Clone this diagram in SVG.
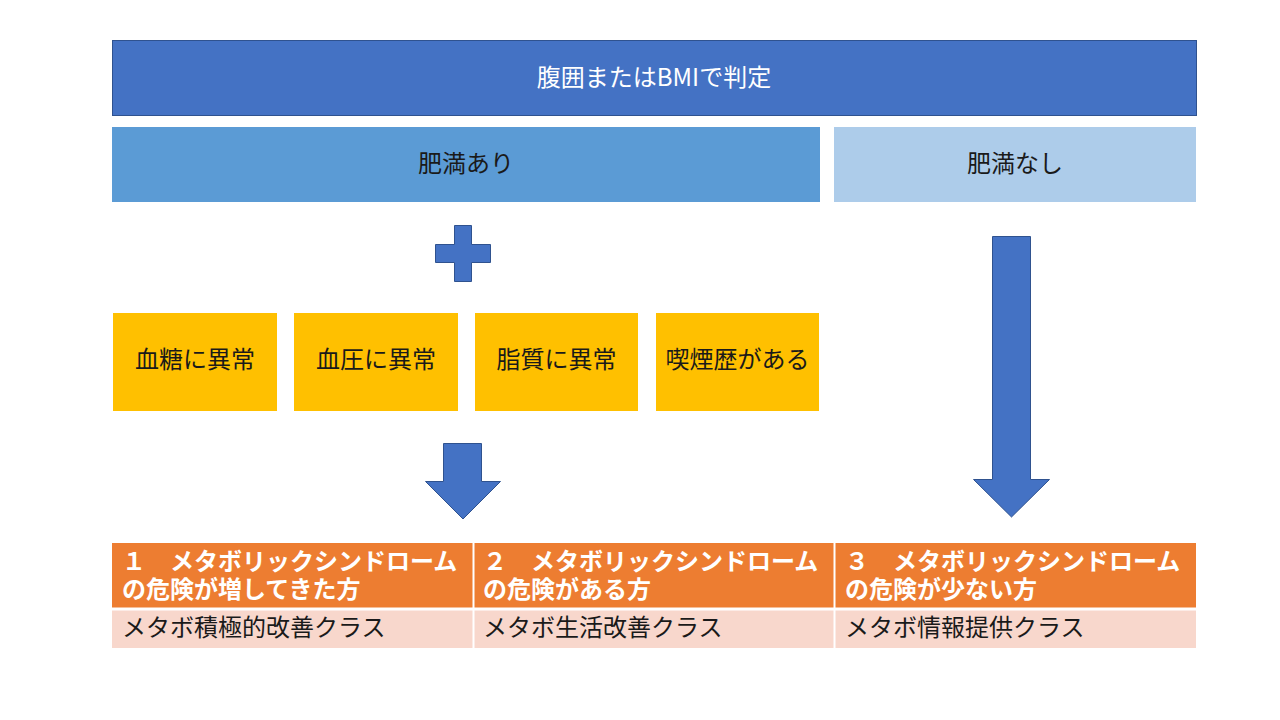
<svg xmlns="http://www.w3.org/2000/svg" width="1280" height="720" viewBox="0 0 1280 720">
<style>
  text { font-family: "Noto Sans CJK JP", "Noto Sans", sans-serif; font-size: 24px; }
  .blue { fill: #4472C4; stroke: #2F528F; stroke-width: 1; }
  .dark { fill: #1a1a1a; }
  .white { fill: #ffffff; }
  .c { text-anchor: middle; }
  .yel { fill: #FFC000; }
  .hdr { fill: #ED7D31; }
  .row { fill: #F8D7CC; }
  .hd { fill: #ffffff; font-weight: bold; }
</style>
<rect width="1280" height="720" fill="#ffffff"/>
<g id="judge">
  <rect class="blue" x="112.5" y="40.5" width="1084" height="75"/>
  <text class="white c" x="654" y="86">腹囲またはBMIで判定</text>
</g>
<g id="obese">
  <rect x="112" y="127" width="708" height="75" fill="#5B9BD5"/>
  <text class="dark c" x="466" y="172">肥満あり</text>
</g>
<g id="not-obese">
  <rect x="834" y="127" width="362" height="75" fill="#ADCCEA"/>
  <text class="dark c" x="1015" y="172">肥満なし</text>
</g>
<g id="plus">
  <path class="blue" d="M454.5 225.5 H471.5 V244.5 H490.5 V262.5 H471.5 V281.5 H454.5 V262.5 H435.5 V244.5 H454.5 Z"/>
</g>
<g id="glucose">
  <rect class="yel" x="113" y="313" width="164" height="98"/>
  <text class="dark c" x="195" y="368">血糖に異常</text>
</g>
<g id="pressure">
  <rect class="yel" x="294" y="313" width="164" height="98"/>
  <text class="dark c" x="376" y="368">血圧に異常</text>
</g>
<g id="lipid">
  <rect class="yel" x="475" y="313" width="163" height="98"/>
  <text class="dark c" x="556.5" y="368">脂質に異常</text>
</g>
<g id="smoking">
  <rect class="yel" x="656" y="313" width="163" height="98"/>
  <text class="dark c" x="737.5" y="368">喫煙歴がある</text>
</g>
<g id="connectors">
  <path class="blue" d="M443.5 443.5 H481.5 V481.5 H500.5 L463 519 L425.5 481.5 H443.5 Z"/>
  <path class="blue" d="M992.5 236.5 H1030.5 V479.5 H1049.5 L1011.5 517 L973.5 479.5 H992.5 Z"/>
</g>
<g id="table">
  <rect class="hdr" x="112" y="543" width="1084" height="65"/>
  <rect class="row" x="112" y="610" width="1084" height="38"/>
  <rect x="112" y="607.5" width="1084" height="3" fill="#ffffff"/>
  <rect x="472.5" y="543" width="2" height="105" fill="#ffffff"/>
  <rect x="833.5" y="543" width="2" height="105" fill="#ffffff"/>
</g>
<g id="class1">
  <text class="hd" x="122" y="570">１　メタボリックシンドローム</text>
  <text class="hd" x="122" y="598">の危険が増してきた方</text>
  <text class="dark" x="122" y="636">メタボ積極的改善クラス</text>
</g>
<g id="class2">
  <text class="hd" x="483" y="570">２　メタボリックシンドローム</text>
  <text class="hd" x="483" y="598">の危険がある方</text>
  <text class="dark" x="483" y="636">メタボ生活改善クラス</text>
</g>
<g id="class3">
  <text class="hd" x="845" y="570">３　メタボリックシンドローム</text>
  <text class="hd" x="845" y="598">の危険が少ない方</text>
  <text class="dark" x="845" y="636">メタボ情報提供クラス</text>
</g>
</svg>
